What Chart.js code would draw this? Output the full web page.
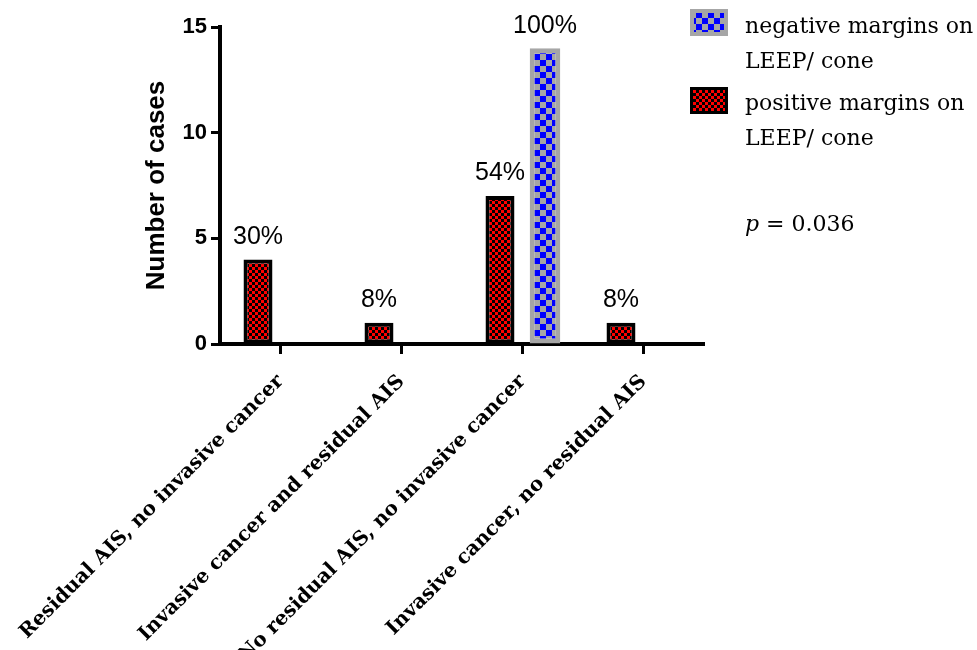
<!DOCTYPE html>
<html>
<head>
<meta charset="utf-8">
<script src="https://cdn.jsdelivr.net/npm/chart.js@4/dist/chart.umd.min.js"></script>
<style>
  html, body { margin: 0; padding: 0; background: #fff; }
  #wrap { position: relative; width: 977px; height: 650px; }
</style>
</head>
<body>
<div id="wrap"><canvas id="chart" width="977" height="650"></canvas></div>
<script>
// Case counts by outcome, split by LEEP/cone margin status
const categories = [
  'Residual AIS, no invasive cancer',
  'Invasive cancer and residual AIS',
  'No residual AIS, no invasive cancer',
  'Invasive cancer, no residual AIS'
];
const positiveCases = [4, 1, 7, 1];
const negativeCases = [0, 0, 14, 0];
const positiveLabels = ['30%', '8%', '54%', '8%'];
const negativeLabels = [null, null, '100%', null];
const yTicks = [0, 5, 10, 15];
const legendNames = ['negative margins on|LEEP/ cone', 'positive margins on|LEEP/ cone'];
const pValue = '0.036';

const SANS = '"Liberation Sans", Arial, sans-serif';
const SERIF = '"DejaVu Serif", "Liberation Serif", serif';

function checkerPattern(a, b, size) {
  const c = document.createElement('canvas');
  c.width = c.height = size * 2;
  const g = c.getContext('2d');
  g.fillStyle = a;
  g.fillRect(0, 0, size * 2, size * 2);
  g.fillStyle = b;
  g.fillRect(0, 0, size, size);
  g.fillRect(size, size, size, size);
  return g.createPattern(c, 'repeat');
}

const ctx = document.getElementById('chart').getContext('2d');
const redPat = checkerPattern('#ff0000', '#000000', 3);
const bluePat = checkerPattern('#a6a6a6', '#0000ff', 6);

const valueLabels = {
  id: 'valueLabels',
  afterDatasetsDraw(chart) {
    const c = chart.ctx;
    const sets = [positiveLabels, negativeLabels];
    c.save();
    c.fillStyle = '#000';
    c.font = '25px ' + SANS;
    c.textAlign = 'center';
    c.textBaseline = 'bottom';
    chart.data.datasets.forEach((ds, i) => {
      chart.getDatasetMeta(i).data.forEach((el, j) => {
        const txt = sets[i][j];
        if (txt) c.fillText(txt, el.x, el.y - 10);
      });
    });
    c.restore();
  }
};

const sideLegend = {
  id: 'sideLegend',
  afterDraw(chart) {
    const c = chart.ctx;
    c.save();
    // negative swatch
    c.fillStyle = '#a6a6a6';
    c.fillRect(690, 9, 38, 27);
    c.fillStyle = bluePat;
    c.fillRect(694, 13, 30, 19);
    // positive swatch
    c.fillStyle = '#000';
    c.fillRect(690, 87, 38, 27);
    c.fillStyle = redPat;
    c.fillRect(693, 90, 32, 21);

    c.fillStyle = '#000';
    c.font = '22px ' + SERIF;
    c.textAlign = 'left';
    c.textBaseline = 'middle';
    const rows = [[legendNames[0], 27], [legendNames[1], 104]];
    rows.forEach(([name, y]) => {
      const parts = name.split('|');
      c.fillText(parts[0], 745, y);
      c.fillText(parts[1], 745, y + 35);
    });
    c.font = 'italic 22px ' + SERIF;
    c.fillText('p', 745, 225);
    const pw = c.measureText('p').width;
    c.font = '22px ' + SERIF;
    c.fillText(' = ' + pValue, 745 + pw, 225);
    c.restore();
  }
};

new Chart(ctx, {
  type: 'bar',
  data: {
    labels: categories,
    datasets: [
      {
        label: 'positive margins on LEEP/ cone',
        data: positiveCases,
        backgroundColor: redPat,
        borderColor: '#000',
        borderWidth: 4,
        borderSkipped: false,
        categoryPercentage: 0.744,
        barPercentage: 0.644,
      },
      {
        label: 'negative margins on LEEP/ cone',
        data: negativeCases,
        backgroundColor: bluePat,
        borderColor: '#a6a6a6',
        borderWidth: 5,
        borderSkipped: false,
        categoryPercentage: 0.744,
        barPercentage: 0.68,
      },
    ],
  },
  options: {
    responsive: false,
    animation: false,
    layout: { padding: { top: 27, right: 273, left: 131, bottom: 0 } },
    plugins: {
      legend: { display: false },
      tooltip: { enabled: false },
    },
    scales: {
      x: {
        offset: true,
        grid: { display: true, drawOnChartArea: false, offset: false, drawTicks: true, tickLength: 10, tickWidth: 3, tickColor: '#000' },
        border: { display: true, color: '#000', width: 4 },
        ticks: { color: '#000', minRotation: 45, maxRotation: 45, padding: 16, font: { family: SERIF, size: 20, weight: 'bold' } },
        afterFit(scale) { scale.height = 306; scale.paddingLeft = 0; scale.paddingRight = 0; },
      },
      y: {
        min: 0, max: 15,
        afterBuildTicks(scale) { scale.ticks = yTicks.map(v => ({ value: v })); },
        grid: { display: true, drawOnChartArea: false, drawTicks: true, tickLength: 9, tickWidth: 3, tickColor: '#000' },
        border: { display: true, color: '#000', width: 4 },
        ticks: { color: '#000', padding: 4, font: { family: SANS, size: 22, weight: 'bold' } },
        title: { display: true, text: 'Number of cases', color: '#000', padding: 10, font: { family: SANS, size: 26, weight: 'bold' } },
        afterFit(scale) { scale.width = 89; },
      },
    },
  },
  plugins: [valueLabels, sideLegend],
});
</script>
</body>
</html>
